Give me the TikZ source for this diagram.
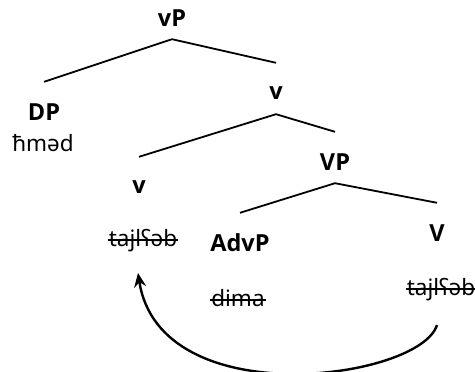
\documentclass[tikz,border=0pt]{standalone}
\usepackage{fontspec}
\setmainfont{Noto Sans}
\newfontfamily\catfont{Open Sans}
\usetikzlibrary{arrows.meta}
\tikzstyle{cat}=[
  font=\fontsize{23.5}{28}\catfont\bfseries, minimum height=42pt, inner sep=0pt
]
\tikzstyle{word}=[
  font=\fontsize{22.5}{27}\selectfont, inner sep=1pt, text height=17pt, text depth=5pt
]
\tikzstyle{branch}=[
  line width=1.8pt
]
\tikzstyle{strike}=[
  line width=1.4pt
]
\tikzstyle{move}=[
  line width=2.4pt, -{Stealth[length=14pt,width=12pt]}
]

\begin{document}
\begin{tikzpicture}[x=1pt,y=-1pt]
    \useasboundingbox (0,0) rectangle (475,372);
    %Nodes
    \node[cat]  (vP)    at (172,18)  {vP};
    \node[cat]  (DP)    at (44,112)  {DP};
    \node[word] (hmed)  at (43,145)  {ħməd};
    \node[cat]  (vbar)  at (276,93)  {v};
    \node[cat]  (vhead) at (139,187) {v};
    \node[word] (vverb) at (143,240) {tajlʕəb};
    \node[cat]  (VP)    at (335,162) {VP};
    \node[cat]  (AdvP)  at (240,243) {AdvP};
    \node[word] (dima)  at (238,300) {dima};
    \node[cat]  (V)     at (437,233) {V};
    \node[word] (Vverb) at (441,289) {tajlʕəb};

    %Lines
    \draw[branch] ([yshift=9pt]DP.north) -- (vP.south) -- ([yshift=9pt]vbar.north);
    \draw[branch] ([yshift=9pt]vhead.north) -- (vbar.south) -- ([yshift=9pt]VP.north);
    \draw[branch] ([yshift=9pt]AdvP.north) -- (VP.south) -- ([yshift=9pt]V.north);

    %Struck-out copies
    \draw[strike] (vverb.west) -- (vverb.east);
    \draw[strike] (dima.west) -- (dima.east);
    \draw[strike] (Vverb.west) -- (Vverb.east);

    %Movement
    \draw[move] ([shift={(-4pt,-36pt)}]Vverb.center) .. controls (420,380) and (160,415) .. ([shift={(-5pt,-33pt)}]vverb.center);
\end{tikzpicture}
\end{document}
